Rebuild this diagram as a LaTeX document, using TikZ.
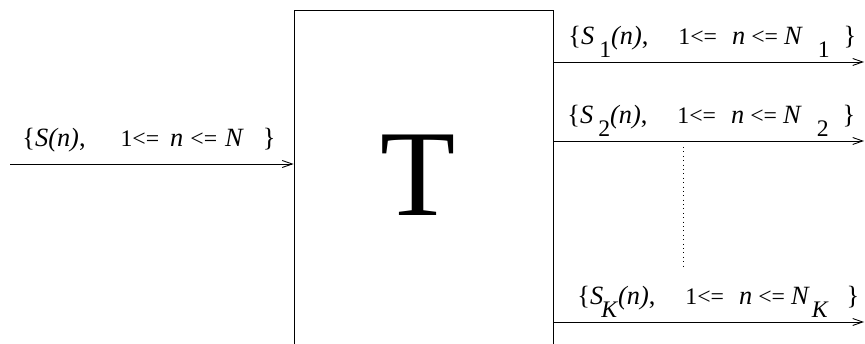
\documentclass[tikz,border=0pt]{standalone}
\usepackage{fontspec}
\setmainfont{Liberation Serif}
\usetikzlibrary{arrows.meta}
\newcommand{\rel}[1]{{\fontsize{13.5}{15}\selectfont #1}}
\newcommand{\lowsub}[1]{\raisebox{-0.26cm}{\fontsize{13.5}{15}\selectfont #1}}

\begin{document}
\begin{tikzpicture}[>={Straight Barb[length=2mm,width=1.4mm]},line width=0.5pt,
  lab/.style={anchor=base west,inner sep=0pt,font=\fontsize{15}{17}\selectfont}]
\useasboundingbox (0,0) rectangle (17.3,6.88);
\clip (0,0) rectangle (17.3,6.88);
\node[draw,minimum width=5.18cm,minimum height=7.2cm,inner sep=0pt] (box) at (8.47,3.08) {};
\node[font=\fontsize{70}{74}\selectfont] (tl) at (8.36,3.38) {T};
\coordinate (src) at (0.2,3.6);
\coordinate (d1) at (17.28,5.64);
\coordinate (d2) at (17.28,4.06);
\coordinate (dk) at (17.28,0.44);
\coordinate (vtop) at (13.66,3.94);
\coordinate (vbot) at (13.66,1.52);
\draw[->] (src) -- (src -| box.west);
\draw[->] (box.east |- d1) -- (d1);
\draw[->] (box.east |- d2) -- (d2);
\draw[->] (box.east |- dk) -- (dk);
\draw[dotted] (vtop) -- (vbot);
\node[lab] (lin) at (0.44,3.94) {\{\textit{S(n)},\hspace{0.7cm}\rel{1<=}\hspace{0.22cm}\textit{n}\hspace{0.14cm}\rel{<=}\hspace{0.16cm}\textit{N}\hspace{0.38cm}\}};
\node[lab] (l1) at (11.36,5.98) {\{\textit{S}\hspace{0.1cm}\lowsub{1}\textit{(n)},\hspace{0.6cm}\rel{1<=}\hspace{0.3cm}\textit{n}\hspace{0.12cm}\rel{<=}\hspace{0.12cm}\textit{N}\hspace{0.3cm}\lowsub{1}\hspace{0.28cm}\}};
\node[lab] (l2) at (11.34,4.40) {\{\textit{S}\hspace{0.1cm}\lowsub{2}\textit{(n)},\hspace{0.6cm}\rel{1<=}\hspace{0.3cm}\textit{n}\hspace{0.12cm}\rel{<=}\hspace{0.12cm}\textit{N}\hspace{0.3cm}\lowsub{2}\hspace{0.28cm}\}};
\node[lab] (lk) at (11.54,0.78) {\{\textit{S}\hspace{-0.04cm}\lowsub{\textit{K}}\textit{(n)},\hspace{0.6cm}\rel{1<=}\hspace{0.3cm}\textit{n}\hspace{0.12cm}\rel{<=}\hspace{0.12cm}\textit{N}\hspace{0.04cm}\lowsub{\textit{K}}\hspace{0.36cm}\}};
\end{tikzpicture}
\end{document}
